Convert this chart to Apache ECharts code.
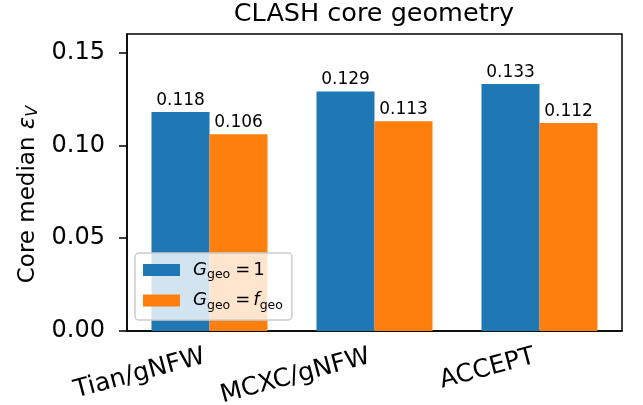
<!DOCTYPE html>
<html><head><meta charset="utf-8">
<script src="https://cdn.jsdelivr.net/npm/echarts@6/dist/echarts.min.js"></script>
<style>html,body{margin:0;padding:0;background:#fff}#c{width:643px;height:405px}</style>
</head><body><div id="c"></div>
<script>
const categories = ['Tian/gNFW', 'MCXC/gNFW', 'ACCEPT'];
const seriesNames = ['G1', 'Gf'];
const valuesG1 = [0.118, 0.129, 0.133];
const valuesGf = [0.106, 0.113, 0.112];
const yTicks = [0, 0.05, 0.10, 0.15];
const yMax = 0.16;

const FONT = 'DejaVu Sans';
const chart = echarts.init(document.getElementById('c'), null, {renderer: 'canvas'});
const labelOpt = {show: true, position: 'top', distance: 3, fontFamily: FONT, fontSize: 17, color: '#000',
  formatter: p => p.value.toFixed(3)};
chart.setOption({
  animation: false,
  title: {text: 'CLASH core geometry', left: 374, textAlign: 'center', top: 1, padding: 0,
    textStyle: {fontFamily: FONT, fontSize: 25.5, fontWeight: 'normal', color: '#000'}},
  grid: {left: 127, right: 21, top: 34, bottom: 74, show: true, borderColor: '#000', borderWidth: 1.5,
    backgroundColor: 'transparent', containLabel: false, outerBoundsMode: 'none'},
  legend: {
    orient: 'vertical', left: 135, top: 253, padding: [8, 9, 8, 8], itemGap: 10,
    itemWidth: 37, itemHeight: 12, icon: 'rect',
    backgroundColor: 'rgba(255,255,255,0.8)', borderColor: '#cccccc', borderWidth: 1.5, borderRadius: 4,
    data: seriesNames,
    formatter: n => n === 'G1' ? '{g|G}{s|geo}{e|=}{n|1}' : '{g|G}{s|geo}{e|=}{i|f}{s|geo}',
    textStyle: {fontFamily: FONT, color: '#000', fontSize: 17,
      rich: {
        g: {fontFamily: FONT, fontStyle: 'italic', fontSize: 18, color: '#000', padding: [0, 0, 0, 8]},
        i: {fontFamily: FONT, fontStyle: 'italic', fontSize: 18, color: '#000'},
        s: {fontFamily: FONT, fontSize: 12.5, color: '#000', padding: [10, 0, 0, 0]},
        e: {fontFamily: FONT, fontSize: 18, color: '#000', padding: [0, 3, 0, 5]},
        n: {fontFamily: FONT, fontSize: 18, color: '#000'}
      }}
  },
  xAxis: {
    type: 'category', data: categories,
    axisLine: {lineStyle: {color: '#000', width: 1.5}},
    axisTick: {alignWithLabel: true, length: 8, lineStyle: {color: '#000', width: 1.5}},
    axisLabel: {rotate: 15, margin: 24, padding: [0, 5, 0, 0], fontFamily: FONT, fontSize: 25, color: '#000'},
    splitLine: {show: false}
  },
  yAxis: {
    type: 'value', min: 0, max: yMax,
    name: '{n|Core median }{e|ε}{v|V}', nameLocation: 'middle', nameGap: 84, nameRotate: 90,
    nameTextStyle: {fontFamily: FONT, fontSize: 23, color: '#000', padding: [0, 24, 0, 0],
      rich: {
        n: {fontFamily: FONT, fontSize: 23, color: '#000'},
        e: {fontFamily: FONT, fontSize: 23, fontStyle: 'italic', color: '#000'},
        v: {fontFamily: FONT, fontSize: 16, fontStyle: 'italic', color: '#000', padding: [10, 0, 0, 0]}
      }},
    axisLine: {show: true, lineStyle: {color: '#000', width: 1.5}},
    axisTick: {show: true, length: 8, lineStyle: {color: '#000', width: 1.5}, customValues: yTicks},
    axisLabel: {fontFamily: FONT, fontSize: 24, color: '#000', margin: 22, customValues: yTicks,
      formatter: v => v.toFixed(2)},
    splitLine: {show: false}
  },
  series: [
    {name: 'G1', type: 'bar', data: valuesG1, barWidth: 58, barGap: '0%', itemStyle: {color: '#1f77b4'}, label: labelOpt},
    {name: 'Gf', type: 'bar', data: valuesGf, barWidth: 58, barGap: '0%', itemStyle: {color: '#ff7f0e'}, label: labelOpt}
  ]
});
</script></body></html>
